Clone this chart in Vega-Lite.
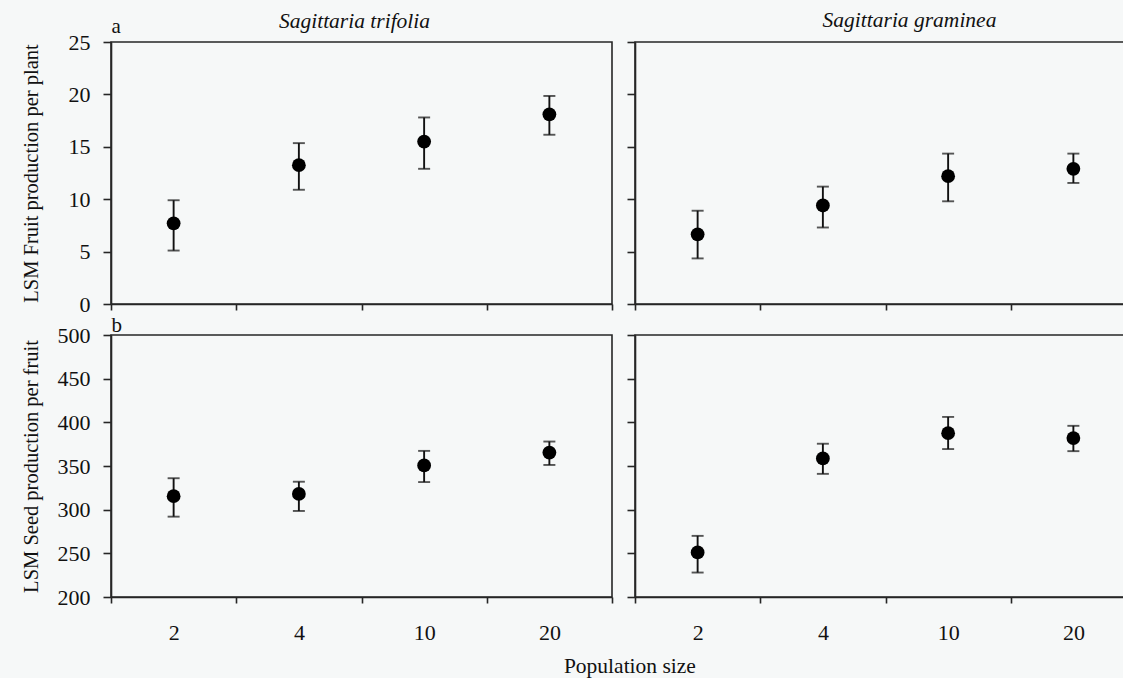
{
  "$schema": "https://vega.github.io/schema/vega-lite/v6.json",
  "background": "#f6f8f8",
  "padding": {"left": 20, "top": 8, "right": 0, "bottom": 0},
  "data": {
    "values": [
      {"trait": "fruit", "species": "Sagittaria trifolia", "pop": "2", "mean": 7.7, "lo": 5.1, "hi": 9.9},
      {"trait": "fruit", "species": "Sagittaria trifolia", "pop": "4", "mean": 13.25, "lo": 10.9, "hi": 15.35},
      {"trait": "fruit", "species": "Sagittaria trifolia", "pop": "10", "mean": 15.5, "lo": 12.9, "hi": 17.8},
      {"trait": "fruit", "species": "Sagittaria trifolia", "pop": "20", "mean": 18.1, "lo": 16.15, "hi": 19.85},
      {"trait": "fruit", "species": "Sagittaria graminea", "pop": "2", "mean": 6.65, "lo": 4.35, "hi": 8.9},
      {"trait": "fruit", "species": "Sagittaria graminea", "pop": "4", "mean": 9.4, "lo": 7.3, "hi": 11.2},
      {"trait": "fruit", "species": "Sagittaria graminea", "pop": "10", "mean": 12.2, "lo": 9.8, "hi": 14.35},
      {"trait": "fruit", "species": "Sagittaria graminea", "pop": "20", "mean": 12.9, "lo": 11.55, "hi": 14.35},
      {"trait": "seed", "species": "Sagittaria trifolia", "pop": "2", "mean": 315.5, "lo": 292, "hi": 336},
      {"trait": "seed", "species": "Sagittaria trifolia", "pop": "4", "mean": 318, "lo": 298.5, "hi": 332},
      {"trait": "seed", "species": "Sagittaria trifolia", "pop": "10", "mean": 350.7, "lo": 331.6, "hi": 367.3},
      {"trait": "seed", "species": "Sagittaria trifolia", "pop": "20", "mean": 365.4, "lo": 351.2, "hi": 378},
      {"trait": "seed", "species": "Sagittaria graminea", "pop": "2", "mean": 251, "lo": 228, "hi": 270},
      {"trait": "seed", "species": "Sagittaria graminea", "pop": "4", "mean": 358.7, "lo": 341, "hi": 375.5},
      {"trait": "seed", "species": "Sagittaria graminea", "pop": "10", "mean": 387.6, "lo": 369.4, "hi": 406.2},
      {"trait": "seed", "species": "Sagittaria graminea", "pop": "20", "mean": 382, "lo": 367, "hi": 396}
    ]
  },
  "title": {"text": "Population size", "orient": "bottom", "anchor": "middle", "offset": 12, "dx": 51},
  "columns": 2,
  "spacing": {"row": 31, "column": 23},
  "bounds": "flush",
  "concat": [
    {
      "width": 501, "height": 262,
      "title": {"text": "Sagittaria trifolia", "fontStyle": "italic", "dx": -7, "dy": 21, "anchor": "middle", "frame": "group"},
      "transform": [{"filter": "datum.trait == 'fruit' && datum.species == 'Sagittaria trifolia'"}],
      "layer": [
        {
          "mark": {"type": "errorbar", "color": "#111", "ticks": {"size": 12, "thickness": 1.9}, "rule": {"strokeWidth": 1.9}},
          "encoding": {
            "x": {"field": "pop", "type": "ordinal", "sort": ["2", "4", "10", "20"], "scale": {"type": "band", "paddingInner": 0, "paddingOuter": 0}, "axis": {"labels": false, "title": null}},
            "y": {"field": "lo", "type": "quantitative", "scale": {"domain": [0, 25], "nice": false}, "axis": {"values": [0, 5, 10, 15, 20, 25], "title": "LSM Fruit production per plant", "minExtent": 55, "maxExtent": 55, "titlePadding": 15}},
            "y2": {"field": "hi"}
          }
        },
        {
          "mark": {"type": "point", "filled": true, "size": 190, "color": "#000", "opacity": 1},
          "encoding": {
            "x": {"field": "pop", "type": "ordinal", "sort": ["2", "4", "10", "20"], "axis": {"orient": "top", "title": "a", "labels": false, "ticks": false, "domain": false, "titleAnchor": "start", "titlePadding": 6, "titleFontSize": 21}},
            "y": {"field": "mean", "type": "quantitative", "axis": {"values": [0, 5, 10, 15, 20, 25], "title": "LSM Fruit production per plant", "minExtent": 55, "maxExtent": 55, "titlePadding": 15}}
          }
        }
      ],
      "resolve": {"axis": {"x": "independent"}}
    },
    {
      "width": 501, "height": 262,
      "title": {"text": "Sagittaria graminea", "fontStyle": "italic", "dx": 24, "dy": -6, "anchor": "middle", "frame": "group"},
      "transform": [{"filter": "datum.trait == 'fruit' && datum.species == 'Sagittaria graminea'"}],
      "layer": [
        {
          "mark": {"type": "errorbar", "color": "#111", "ticks": {"size": 12, "thickness": 1.9}, "rule": {"strokeWidth": 1.9}},
          "encoding": {
            "x": {"field": "pop", "type": "ordinal", "sort": ["2", "4", "10", "20"], "scale": {"type": "band", "paddingInner": 0, "paddingOuter": 0}, "axis": {"labels": false, "title": null}},
            "y": {"field": "lo", "type": "quantitative", "scale": {"domain": [0, 25], "nice": false}, "axis": {"values": [0, 5, 10, 15, 20, 25], "labels": false, "title": null}},
            "y2": {"field": "hi"}
          }
        },
        {
          "mark": {"type": "point", "filled": true, "size": 190, "color": "#000", "opacity": 1},
          "encoding": {
            "x": {"field": "pop", "type": "ordinal", "sort": ["2", "4", "10", "20"]},
            "y": {"field": "mean", "type": "quantitative", "axis": {"values": [0, 5, 10, 15, 20, 25], "labels": false, "title": null}}
          }
        }
      ]
    },
    {
      "width": 501, "height": 262,
      "transform": [{"filter": "datum.trait == 'seed' && datum.species == 'Sagittaria trifolia'"}],
      "layer": [
        {
          "mark": {"type": "errorbar", "color": "#111", "ticks": {"size": 12, "thickness": 1.9}, "rule": {"strokeWidth": 1.9}},
          "encoding": {
            "x": {"field": "pop", "type": "ordinal", "sort": ["2", "4", "10", "20"], "scale": {"type": "band", "paddingInner": 0, "paddingOuter": 0}, "axis": {"title": null}},
            "y": {"field": "lo", "type": "quantitative", "scale": {"domain": [200, 500], "nice": false}, "axis": {"values": [200, 250, 300, 350, 400, 450, 500], "title": "LSM Seed production per fruit", "minExtent": 55, "maxExtent": 55, "titlePadding": 15}},
            "y2": {"field": "hi"}
          }
        },
        {
          "mark": {"type": "point", "filled": true, "size": 190, "color": "#000", "opacity": 1},
          "encoding": {
            "x": {"field": "pop", "type": "ordinal", "sort": ["2", "4", "10", "20"], "axis": {"orient": "top", "title": "b", "labels": false, "ticks": false, "domain": false, "titleAnchor": "start", "titlePadding": 0, "titleFontSize": 21}},
            "y": {"field": "mean", "type": "quantitative", "axis": {"values": [200, 250, 300, 350, 400, 450, 500], "title": "LSM Seed production per fruit", "minExtent": 55, "maxExtent": 55, "titlePadding": 15}}
          }
        }
      ],
      "resolve": {"axis": {"x": "independent"}}
    },
    {
      "width": 501, "height": 262,
      "transform": [{"filter": "datum.trait == 'seed' && datum.species == 'Sagittaria graminea'"}],
      "layer": [
        {
          "mark": {"type": "errorbar", "color": "#111", "ticks": {"size": 12, "thickness": 1.9}, "rule": {"strokeWidth": 1.9}},
          "encoding": {
            "x": {"field": "pop", "type": "ordinal", "sort": ["2", "4", "10", "20"], "scale": {"type": "band", "paddingInner": 0, "paddingOuter": 0}, "axis": {"title": null}},
            "y": {"field": "lo", "type": "quantitative", "scale": {"domain": [200, 500], "nice": false}, "axis": {"values": [200, 250, 300, 350, 400, 450, 500], "labels": false, "title": null}},
            "y2": {"field": "hi"}
          }
        },
        {
          "mark": {"type": "point", "filled": true, "size": 190, "color": "#000", "opacity": 1},
          "encoding": {
            "x": {"field": "pop", "type": "ordinal", "sort": ["2", "4", "10", "20"]},
            "y": {"field": "mean", "type": "quantitative", "axis": {"values": [200, 250, 300, 350, 400, 450, 500], "labels": false, "title": null}}
          }
        }
      ]
    }
  ],
  "config": {
    "view": {"stroke": "#262626", "strokeWidth": 1.6},
    "axis": {"domainColor": "#262626", "domainWidth": 1.6, "tickColor": "#262626", "tickWidth": 1.6, "grid": false, "labelFont": "Liberation Serif", "labelFontSize": 22, "labelColor": "#111", "titleFont": "Liberation Serif", "titleFontSize": 20.5, "titleFontWeight": "normal", "titleColor": "#111"},
    "axisX": {"tickSize": 6, "labelPadding": 19, "labelAngle": 0, "tickBand": "extent"},
    "axisY": {"tickSize": 8, "labelPadding": 13},
    "title": {"font": "Liberation Serif", "fontSize": 21.5, "fontWeight": "normal", "color": "#111"}
  }
}
